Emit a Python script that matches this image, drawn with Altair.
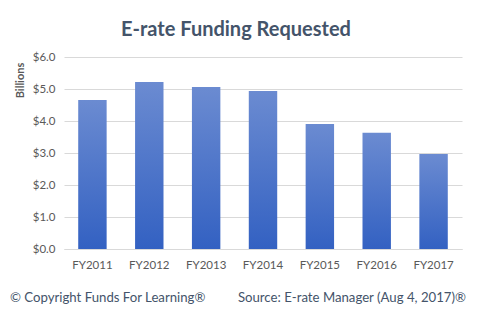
import altair as alt
import pandas as pd

years = ["FY2011", "FY2012", "FY2013", "FY2014", "FY2015", "FY2016", "FY2017"]
requested = [4.66, 5.22, 5.06, 4.94, 3.91, 3.63, 2.97]
y_ticks = [0, 1, 2, 3, 4, 5, 6]

df = pd.DataFrame({"year": years, "value": requested})

FONT = "Lato"
TXT = "#595959"

grad = alt.Gradient(
    gradient="linear",
    stops=[alt.GradientStop(color="#6b8bd1", offset=0),
           alt.GradientStop(color="#3361c2", offset=1)],
    x1=0, x2=0, y1=0, y2=1,
)

bars = alt.Chart(df).mark_bar(color=grad).encode(
    x=alt.X("year:N", sort=years, scale=alt.Scale(paddingInner=0.5, paddingOuter=0.25),
            axis=alt.Axis(title=None, labelAngle=0, ticks=False, grid=False, domainColor="#d9d9d9",
                          labelPadding=10, labelFontSize=11.5, labelColor=TXT, labelFont=FONT)),
    y=alt.Y("value:Q", scale=alt.Scale(domain=[0, 6]),
            axis=alt.Axis(values=y_ticks, format="$.1f", title="Billions", ticks=False, domain=False,
                          gridColor="#d9d9d9", labelPadding=9, labelFontSize=11.5, labelColor=TXT,
                          labelFont=FONT, titleFont=FONT, titleFontSize=11, titleFontWeight="bold",
                          titleColor=TXT, titleX=-44, titleY=23, titleAngle=270,
                          titleAlign="center", titleBaseline="middle")),
)

foot_left = alt.Chart(pd.DataFrame({"t": ["© Copyright Funds For Learning®"]})).mark_text(
    align="left", baseline="middle", font=FONT, fontSize=13.2, color="#44546a"
).encode(x=alt.value(-54), y=alt.value(241), text="t:N")

foot_right = alt.Chart(pd.DataFrame({"t": ["Source: E-rate Manager (Aug 4, 2017)®"]})).mark_text(
    align="right", baseline="middle", font=FONT, fontSize=13.2, color="#44546a"
).encode(x=alt.value(402), y=alt.value(241), text="t:N")

chart = alt.layer(bars, foot_left, foot_right).properties(
    width=398, height=192,
    background="white",
    autosize=alt.AutoSizeParams(type="none"),
    padding={"left": 64, "top": 57, "right": 21, "bottom": 67},
    title=alt.TitleParams("E-rate Funding Requested", font=FONT, fontSize=20, fontWeight="bold",
                          color="#44546a", anchor="middle", dx=-27, offset=11),
).configure_view(strokeWidth=0, stroke="transparent")

chart.save("out.html", embed_options={"renderer": "svg", "actions": False})
